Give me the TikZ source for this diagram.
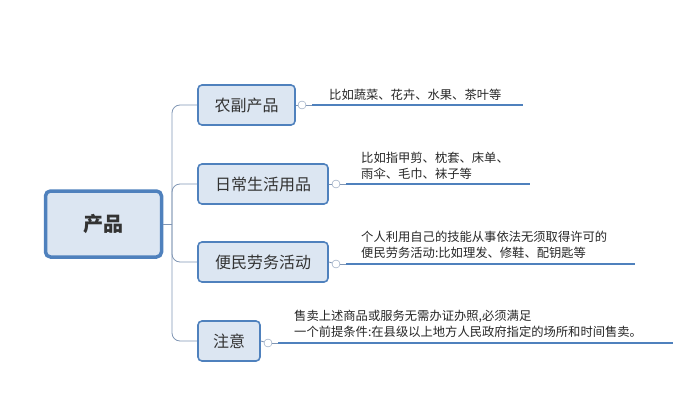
\documentclass[tikz,border=0pt]{standalone}
\usepackage{fontspec}
\newfontfamily\cjk{Noto Sans CJK SC}
\definecolor{bord}{RGB}{79,129,189}
\definecolor{fillb}{RGB}{220,230,242}
\definecolor{connc}{RGB}{128,150,180}
\begin{document}
\begin{tikzpicture}[x=1pt,y=-1pt,
  kid/.style={draw=bord,line width=1.6pt,fill=fillb,rounded corners=4pt,font=\cjk\fontsize{16}{16}\selectfont,text=black!80,minimum height=40pt,inner xsep=8pt},
  conn/.style={draw=connc,line width=0.8pt},
  tog/.style={circle,draw=connc,fill=white,inner sep=0pt,minimum size=8pt},
  uline/.style={draw=bord,line width=2pt},
  note/.style={font=\cjk\fontsize{12.3}{16}\selectfont,align=left,anchor=south west,inner sep=1pt,text=black!85}]
\useasboundingbox (0,0) rectangle (695,401);
\node[draw=bord,line width=3.5pt,fill=fillb,rounded corners=5pt,minimum width=116pt,minimum height=66pt,font=\cjk\bfseries\fontsize{20}{20}\selectfont,text=black!80] (root) at (103.5,224) {产品};
\node[kid,minimum width=97pt] (a) at (246.5,105) {农副产品};
\node[kid,minimum width=130pt] (b) at (263,184) {日常生活用品};
\node[kid,minimum width=130pt] (c) at (263,262) {便民劳务活动};
\node[kid,minimum width=62pt] (d) at (229,341) {注意};
\coordinate (j) at (172,224);
\draw[conn] (root.east) -- (j);
\foreach \n in {a,b,c,d}{\draw[conn,rounded corners=8pt] (j) |- (\n.west);}
\node[tog] (ta) at (302,105) {};
\node[tog] (tb) at (336,184) {};
\node[tog] (tc) at (336,264) {};
\node[tog] (td) at (268,343) {};
\draw[conn] (a.east) -- (ta); \draw[conn] (b.east) -- (tb);
\draw[conn] (c.east) -- (tc); \draw[conn] (d.east) -- (td);
\coordinate (ea) at (523,105); \coordinate (eb) at (530,184);
\coordinate (ec) at (635,264); \coordinate (ed) at (673,343);
\draw[conn] (ta) -- (312,105); \draw[uline] (312,105) -- (ea);
\draw[conn] (tb) -- (346,184); \draw[uline] (346,184) -- (eb);
\draw[conn] (tc) -- (346,264); \draw[uline] (346,264) -- (ec);
\draw[conn] (td) -- (278,343); \draw[uline] (278,343) -- (ed);
\node[note] at (328,102) {比如蔬菜、花卉、水果、茶叶等};
\node[note] at (360,181) {比如指甲剪、枕套、床单、\\雨伞、毛巾、袜子等};
\node[note] at (360,260) {个人利用自己的技能从事依法无须取得许可的\\便民劳务活动:比如理发、修鞋、配钥匙等};
\node[note] at (293,339) {售卖上述商品或服务无需办证办照,必须满足\\一个前提条件:在县级以上地方人民政府指定的场所和时间售卖。};
\end{tikzpicture}
\end{document}
